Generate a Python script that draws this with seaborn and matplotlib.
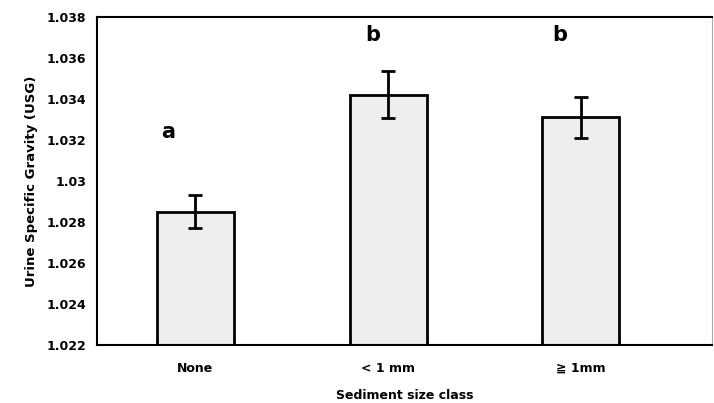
import pandas as pd
import matplotlib
matplotlib.use("Agg")
import matplotlib.pyplot as plt
import seaborn as sns

# Urine specific gravity by sediment size class
categories = ["None", "< 1 mm", "\u2267 1mm"]
usg_mean = [1.0285, 1.0342, 1.0331]
usg_err = [0.0008, 0.00115, 0.001]
letters = ["a", "b", "b"]
letter_y = [1.0324, 1.0371, 1.0371]
letter_dx = [-0.14, -0.08, -0.11]

df = pd.DataFrame({"size": categories, "usg": usg_mean})

sns.set_style("white")
plt.rcParams["font.family"] = ["DejaVu Sans"]
plt.rcParams["text.color"] = "black"
plt.rcParams["axes.labelcolor"] = "black"
plt.rcParams["xtick.color"] = "black"
plt.rcParams["ytick.color"] = "black"

fig = plt.figure(figsize=(7.14, 4.03), dpi=100)
ax = fig.add_axes([0.136, 0.144, 0.861, 0.814])

sns.barplot(data=df, x="size", y="usg", color="#eeeeee", width=0.4,
            edgecolor="black", linewidth=2, saturation=1, ax=ax)
ax.errorbar(range(len(categories)), usg_mean, yerr=usg_err, fmt="none",
            ecolor="black", elinewidth=2, capsize=5, capthick=2)

for i, (lab, ly, dx) in enumerate(zip(letters, letter_y, letter_dx)):
    ax.text(i + dx, ly, lab, fontsize=15, fontweight="bold", color="black",
            ha="center", va="center")

ax.set_ylim(1.022, 1.038)
ax.set_xlim(-0.51, 2.68)
ax.set_yticks([1.022, 1.024, 1.026, 1.028, 1.03, 1.032, 1.034, 1.036, 1.038])
ax.set_yticklabels(["1.022", "1.024", "1.026", "1.028", "1.03", "1.032", "1.034", "1.036", "1.038"])
ax.tick_params(axis="both", length=0, labelsize=9, pad=8)
for t in ax.get_xticklabels() + ax.get_yticklabels():
    t.set_fontweight("bold")
ax.tick_params(axis="x", pad=12)

for s in ["left", "bottom", "top"]:
    ax.spines[s].set_color("black")
    ax.spines[s].set_linewidth(1.5)
ax.spines["right"].set_color("#aaaaaa")
ax.spines["right"].set_linewidth(0.8)

ax.set_xlabel("Sediment size class", fontsize=9, fontweight="bold", labelpad=10)
ax.set_ylabel("Urine Specific Gravity (USG)", fontsize=9.5, fontweight="bold", labelpad=6)

fig.savefig("out.png", dpi=100)
